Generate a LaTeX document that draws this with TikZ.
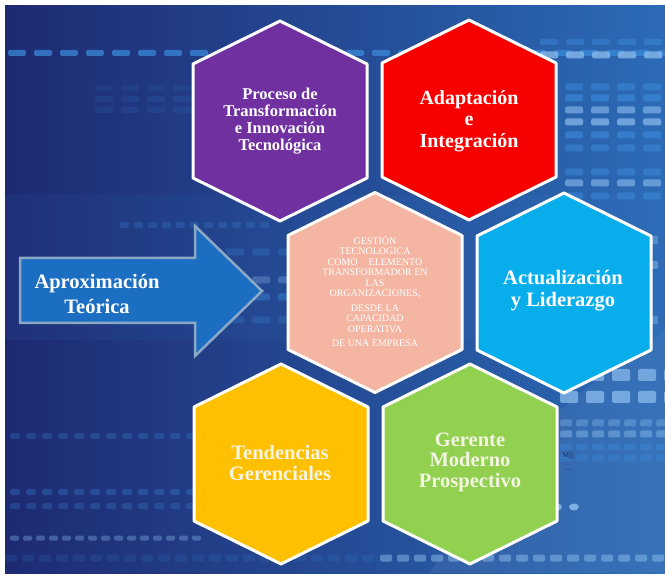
\documentclass[tikz,border=0pt]{standalone}
\usepackage{fontspec}
\setmainfont{Liberation Serif}
\usetikzlibrary{calc}
\definecolor{bgL}{HTML}{1D2A72}
\definecolor{bgR}{HTML}{2C6BB6}
\definecolor{dashC}{HTML}{3C8CDC}
\definecolor{brightC}{HTML}{8CBDEE}
\definecolor{hexPurple}{HTML}{7030A0}
\definecolor{hexRed}{HTML}{F80000}
\definecolor{hexPink}{HTML}{F4B6A3}
\definecolor{hexCyan}{HTML}{08AEEC}
\definecolor{hexYellow}{HTML}{FFC000}
\definecolor{hexGreen}{HTML}{92D050}
\definecolor{arrowFill}{HTML}{1B6EC2}
\definecolor{arrowLine}{HTML}{8BA8C7}
\definecolor{creamTxt}{HTML}{F4F4E2}
\definecolor{darkTxt}{HTML}{1B2450}
% dash row: y, x0, step, count, w, h, style
\newcommand\dashrow[7]{%
  \foreach \i in {0,...,#4}{\fill[#7] ({#2+\i*#3},{#1-#6/2}) rectangle ++(#5,#6);}}
% hexagon: name, x, y, colour
\newcommand\hexat[4]{%
  \coordinate (#1) at (#2,#3);
  \draw[hexline,fill=#4] (#2-87,#3-57) -- (#2,#3-100) -- (#2+87,#3-57) -- (#2+87,#3+57) -- (#2,#3+100) -- (#2-87,#3+57) -- cycle;}
\tikzset{
  hexline/.style={draw=white,line width=3pt,line join=round},
  dsh/.style={dashC,rounded corners=1.5pt,opacity=#1},
  dsh/.default=0.5,
  brt/.style={brightC,rounded corners=1.5pt,opacity=#1},
  brt/.default=0.7,
  lbl/.style={text=white,align=center,font=\bfseries\fontsize{20}{21}\selectfont,inner sep=0pt},
}
\begin{document}
\begin{tikzpicture}[x=1pt,y=-1pt]
\useasboundingbox (0,0) rectangle (665,580);
\fill[white] (0,0) rectangle (665,580);
% background
\shade[left color=bgL,right color=bgR] (5,6) rectangle (665,573);
\fill[bgR!70!white,opacity=0.18] (665,573) -- (430,573) .. controls (520,420) and (600,380) .. (665,330) -- cycle;
\fill[dashC,opacity=0.07] (5,195) rectangle (665,340);
% dash rows
\dashrow{53}{8}{26}{25}{18}{6}{dsh=0.7}
\dashrow{42}{540}{26}{4}{18}{6}{dsh=0.45}
\dashrow{55}{540}{26}{4}{18}{7}{brt=0.75}
\dashrow{88}{95}{26}{3}{18}{6}{dsh=0.1}
\dashrow{99}{95}{26}{3}{18}{6}{dsh=0.12}
\dashrow{110}{95}{26}{3}{18}{6}{dsh=0.12}
\dashrow{87}{565}{26}{3}{18}{7}{dsh=0.5}
\dashrow{98}{565}{26}{3}{18}{7}{dsh=0.6}
\dashrow{110}{565}{26}{3}{18}{7}{brt=0.6}
\dashrow{122}{565}{26}{3}{18}{7}{brt=0.7}
\dashrow{135}{565}{26}{3}{18}{7}{dsh=0.6}
\dashrow{148}{565}{26}{3}{18}{7}{dsh=0.5}
\dashrow{172}{565}{26}{3}{18}{7}{dsh=0.5}
\dashrow{183}{565}{26}{3}{18}{7}{brt=0.6}
\dashrow{196}{565}{26}{3}{18}{7}{dsh=0.5}
\dashrow{225}{120}{14}{10}{9}{6}{dsh=0.25}
\dashrow{252}{200}{26}{3}{18}{7}{dsh=0.25}
\dashrow{280}{200}{26}{3}{18}{7}{brt=0.3}
\dashrow{297}{200}{26}{3}{18}{7}{dsh=0.4}
\dashrow{320}{200}{26}{3}{18}{7}{dsh=0.25}
\dashrow{240}{640}{26}{1}{18}{8}{brt=0.4}
\dashrow{265}{640}{26}{1}{18}{8}{brt=0.5}
\dashrow{320}{640}{26}{1}{18}{8}{brt=0.4}
\dashrow{375}{560}{26}{4}{18}{12}{brt=0.7}
\dashrow{397}{560}{26}{4}{18}{12}{brt=0.75}
\dashrow{423}{560}{16}{6}{12}{7}{brt=0.35}
\dashrow{434}{560}{16}{6}{12}{7}{brt=0.45}
\dashrow{447}{560}{16}{6}{12}{7}{dsh=0.4}
\dashrow{458}{560}{16}{6}{12}{7}{dsh=0.35}
\dashrow{436}{10}{16}{11}{10}{6}{dsh=0.25}
\dashrow{492}{10}{16}{11}{10}{6}{dsh=0.3}
\dashrow{506}{10}{16}{11}{10}{6}{dsh=0.25}
\dashrow{538}{10}{13}{14}{9}{5}{brt=0.35}
\dashrow{558}{380}{17}{16}{12}{7}{brt=0.5}
\dashrow{558}{5}{17}{21}{12}{7}{dsh=0.15}
\fill[brightC,opacity=0.85] (557,507) ellipse (5 and 3.5);
\fill[brightC,opacity=0.85] (574,507) ellipse (5 and 3.5);
% arrow
\draw[fill=arrowFill,draw=arrowLine,line width=2.5pt,line join=miter]
  (20,258) -- (195,258) -- (195,226) -- (262,291) -- (195,356) -- (195,323) -- (20,323) -- cycle;
\node[lbl,font=\bfseries\fontsize{20.5}{24.5}\selectfont] (arrowtxt) at (97,294) {Aproximación\\Teórica};
% hexagons
\hexat{hP}{280}{121}{hexPurple}
\hexat{hR}{469}{120}{hexRed}
\hexat{hC}{375}{292.5}{hexPink}
\hexat{hA}{564}{293}{hexCyan}
\hexat{hY}{281}{464}{hexYellow}
\hexat{hG}{470}{464}{hexGreen}
% labels
\node[lbl,font=\bfseries\fontsize{16.5}{17}\selectfont] (tP) at (280,121) {Proceso de\\Transformación\\e Innovación\\Tecnológica};
\node[lbl,font=\bfseries\fontsize{20}{21.5}\selectfont] (tR) at (469,121) {Adaptación\\e\\Integración};
\node[lbl,text=white,font=\fontsize{10}{10.4}\selectfont] (tC) at (375,291)
  {GESTIÓN\\TECNOLOGICA\\COMO\hspace{1.1em}ELEMENTO\\TRANSFORMADOR EN\\LAS\\ORGANIZACIONES,\\[4.5pt]DESDE LA\\CAPACIDAD\\OPERATIVA\\[3.5pt]DE UNA EMPRESA};
\node[lbl,font=\bfseries\fontsize{20.5}{22}\selectfont] (tA) at (563,291) {Actualización\\y Liderazgo};
\node[lbl,text=creamTxt,font=\bfseries\fontsize{20.5}{20.5}\selectfont] (tY) at (280,463) {Tendencias\\Gerenciales};
\node[lbl,text=creamTxt,font=\bfseries\fontsize{20.5}{20.5}\selectfont] (tG) at (470,462) {Gerente\\Moderno\\Prospectivo};
% stray text
\node[text=darkTxt,font=\fontsize{7}{7}\selectfont,inner sep=0pt] (mjj) at (568,456) {Mjj};
\node[text=darkTxt,font=\fontsize{6}{6}\selectfont,inner sep=0pt] (dots) at (568,470) {.....};
\end{tikzpicture}
\end{document}
